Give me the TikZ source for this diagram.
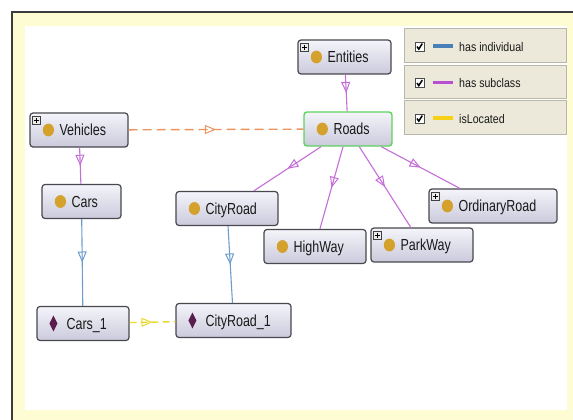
\documentclass[tikz,border=0pt]{standalone}
\usepackage{fontspec}
\setmainfont{Liberation Sans}
\newfontfamily\nodefont[FakeStretch=0.78]{Liberation Sans}
\newfontfamily\legendfont[FakeStretch=0.85]{Liberation Sans}
\usetikzlibrary{arrows.meta,decorations.markings}

\definecolor{frameyellow}{HTML}{FDFCD2}
\definecolor{frameline}{HTML}{3C3C3C}
\definecolor{boxtop}{HTML}{F4F4FA}
\definecolor{boxbot}{HTML}{CACADC}
\definecolor{boxedge}{HTML}{48484E}
\definecolor{rootedge}{HTML}{5FD35F}
\definecolor{classdot}{HTML}{D4A12C}
\definecolor{indiv}{HTML}{5A1D4E}
\definecolor{subcls}{HTML}{C56ED8}
\definecolor{hasind}{HTML}{6C9DCB}
\definecolor{locate}{HTML}{EBD935}
\definecolor{relorange}{HTML}{EA9460}
\definecolor{legendbg}{HTML}{ECE9DB}
\definecolor{legendedge}{HTML}{B9B6AA}
\definecolor{legendblue}{HTML}{4A80B8}
\definecolor{legendpurple}{HTML}{B94FD2}
\definecolor{legendyellow}{HTML}{F7D117}

\tikzset{
  clsbox/.style={rectangle, rounded corners=3pt, draw=boxedge, line width=1.2pt,
    top color=boxtop, bottom color=boxbot, minimum height=34pt, inner sep=0pt},
  clslabel/.style={font=\nodefont\fontsize{16}{16}\selectfont, text=black!90,
    inner sep=0pt, anchor=base west},
  plusbox/.style={draw=black!75, fill=black!8, line width=0.6pt},
  midtip/.style={postaction={decorate}, decoration={markings,
    mark=at position 0.5 with {\arrow{Triangle[open,length=11pt,width=9pt,line width=1pt]}}}},
  subedge/.style={draw=subcls, line width=1.1pt, midtip},
  indedge/.style={draw=hasind, line width=1.1pt, midtip},
  locedge/.style={draw=locate, line width=1.4pt, dash pattern=on 7pt off 4pt, midtip},
  reledge/.style={draw=relorange, line width=1.4pt, dash pattern=on 9pt off 5pt, midtip},
  legendrow/.style={rectangle, fill=legendbg, draw=legendedge, line width=0.8pt,
    minimum width=162pt, inner sep=0pt},
  checkbox/.style={rectangle, fill=white, draw=black!70, line width=0.7pt,
    minimum size=9pt, inner sep=0pt},
  legendlabel/.style={font=\legendfont\fontsize{12.5}{12.5}\selectfont, text=black!90,
    inner sep=0pt, anchor=base west},
}

% class box: name, x, y, width, text, extra options
\newcommand\ogclass[6]{%
  \node[clsbox, minimum width=#4pt, #6] (#1) at (#2,#3) {};
  \fill[classdot] ([xshift=19pt]#1.west) ellipse [x radius=5.6pt, y radius=6.4pt];
  \node[clslabel] (#1-text) at ([shift={(30,5.5)}]#1.west) {#5};
}
% individual box: name, x, y, width, text
\newcommand\ogindiv[5]{%
  \node[clsbox, minimum width=#4pt] (#1) at (#2,#3) {};
  \fill[indiv] ([xshift=13pt]#1.west) -- ++(4,-8) -- ++(4,8) -- ++(-4,8) -- cycle;
  \node[clslabel] (#1-text) at ([shift={(30,5.5)}]#1.west) {#5};
}
% expand marker in the upper left corner of a class box
\newcommand\ogplus[1]{%
  \draw[plusbox] ([shift={(3,4)}]#1.north west) rectangle ([shift={(11,12)}]#1.north west);
  \draw[line width=0.9pt] ([shift={(4.8,8)}]#1.north west) -- ([shift={(9.2,8)}]#1.north west)
    ([shift={(7,5.8)}]#1.north west) -- ([shift={(7,10.2)}]#1.north west);
}

\begin{document}
\begin{tikzpicture}[x=1pt, y=-1pt]
\useasboundingbox (0,0) rectangle (573,420);
\fill[white] (0,0) rectangle (573,420);

% panel frame
\fill[frameyellow] (12,12) rectangle (573,420);
\draw[frameline, line width=1.2pt] (12,420) -- (12,12) -- (573,12);
\fill[white] (25,26) rectangle (567,410);

% legend
\node[legendrow, minimum height=34pt] (leg1) at (485,45) {};
\node[legendrow, minimum height=33pt] (leg2) at (485,81.5) {};
\node[legendrow, minimum height=34pt] (leg3) at (485,117) {};
\foreach \r/\c/\t in {1/legendblue/has individual, 2/legendpurple/has subclass, 3/legendyellow/isLocated}{
  \node[checkbox] (chk\r) at ([shift={(-65.5,1.5)}]leg\r.center) {};
  \draw[line width=1.5pt] ([shift={(-2.5,0)}]chk\r.center) -- ([shift={(-0.7,2.6)}]chk\r.center)
    -- ([shift={(2.8,-3)}]chk\r.center);
  \draw[\c, line width=3.5pt] ([shift={(-52,1)}]leg\r.center) -- ([shift={(-32,1)}]leg\r.center);
  \node[legendlabel] (leg\r-text) at ([shift={(-26,6.5)}]leg\r.center) {\t};
}

% classes
\ogclass{entities}{344.5}{57}{93}{Entities}{}
\ogplus{entities}
\ogclass{roads}{348}{129}{88}{Roads}{draw=rootedge, line width=1.4pt}
\ogclass{vehicles}{79}{130}{98}{Vehicles}{}
\ogplus{vehicles}
\ogclass{cars}{81.5}{201.5}{79}{Cars}{}
\ogclass{cityroad}{227}{208.5}{102}{CityRoad}{}
\ogclass{highway}{315}{246.5}{102}{HighWay}{}
\ogclass{parkway}{422}{245}{102}{ParkWay}{}
\ogplus{parkway}
\ogclass{ordinary}{493}{206}{128}{OrdinaryRoad}{}
\ogplus{ordinary}

% individuals
\ogindiv{cars1}{83}{323.5}{92}{Cars\_1}
\ogindiv{cityroad1}{233.5}{320.5}{115}{CityRoad\_1}

% relations
\draw[subedge] (entities) -- (roads);
\draw[subedge] (vehicles) -- (cars);
\draw[subedge] (roads) -- (cityroad);
\draw[subedge] (roads) -- (highway);
\draw[subedge] (roads) -- (parkway);
\draw[subedge] (roads) -- (ordinary);
\draw[indedge] (cars) -- (cars1);
\draw[indedge] (cityroad) -- (cityroad1);
\draw[reledge] (vehicles) -- (roads);
\draw[locedge] (cars1) -- (cityroad1);
\end{tikzpicture}
\end{document}
